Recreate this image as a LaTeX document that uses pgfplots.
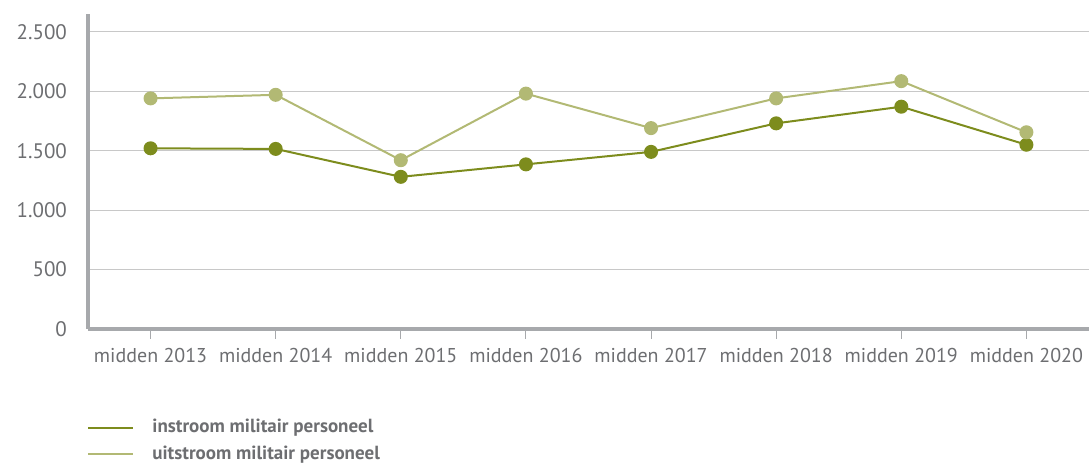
\documentclass[border=0pt]{standalone}
\usepackage{fontspec}
\setmainfont{PT Sans}
\usepackage{pgfplots}
\pgfplotsset{compat=1.18}
\definecolor{instr}{HTML}{7D8C1D}
\definecolor{uitstr}{HTML}{B2B974}
\definecolor{txtgray}{HTML}{6D6E71}
\definecolor{axgray}{HTML}{A7A9AC}
\definecolor{gridgray}{HTML}{C8C8C8}
\begin{document}
\begin{tikzpicture}
\begin{axis}[
  name=ax,
  scale only axis,
  width=500.5pt, height=157.5pt,
  xmin=-0.5, xmax=7.5,
  ymin=0, ymax=2650,
  axis x line*=bottom, axis y line*=left,
  axis line style={-, line width=2pt, color=axgray},
  xtick={0,...,7},
  xticklabels={midden 2013,midden 2014,midden 2015,midden 2016,midden 2017,midden 2018,midden 2019,midden 2020},
  ytick={0,500,1000,1500,2000,2500},
  ymajorgrids,
  grid style={line width=0.5pt, color=gridgray},
  tick align=outside,
  x tick style={color=axgray, line width=0.5pt},
  major tick length=5pt,
  y tick style={draw=none},
  tick label style={font=\fontsize{10}{12}\selectfont, color=txtgray},
  yticklabel style={xshift=-2pt, font=\fontsize{10.5}{12}\selectfont},
  xticklabel style={yshift=-1pt},
  /pgf/number format/.cd, 1000 sep={.}, assume math mode=true, /pgfplots/.cd,
  legend style={at={(0,0)}, anchor=north west, xshift=-3.5pt, yshift=-42pt, draw=none, fill=none,
    font=\fontsize{9.5}{11}\selectfont\bfseries, text=txtgray,
    nodes={inner sep=1pt}, row sep=3pt, column sep=8pt},
  legend cell align=left,
  legend image code/.code={\draw[#1, mark=none] (0pt,0pt) -- (22.5pt,0pt);},
]
\addplot[instr, line width=1pt, mark=*, mark size=3pt, mark options={fill=instr, draw=instr}]
  coordinates {(0,1520) (1,1515) (2,1280) (3,1385) (4,1490) (5,1730) (6,1870) (7,1550)};
\addlegendentry{instroom militair personeel}
\addplot[uitstr, line width=1pt, mark=*, mark size=3pt, mark options={fill=uitstr, draw=uitstr}]
  coordinates {(0,1940) (1,1970) (2,1420) (3,1980) (4,1690) (5,1940) (6,2085) (7,1655)};
\addlegendentry{uitstroom militair personeel}
\end{axis}
\pgfresetboundingbox
\path[use as bounding box] (-44pt,-67.5pt) rectangle (500.5pt,164.5pt);
\end{tikzpicture}
\end{document}
